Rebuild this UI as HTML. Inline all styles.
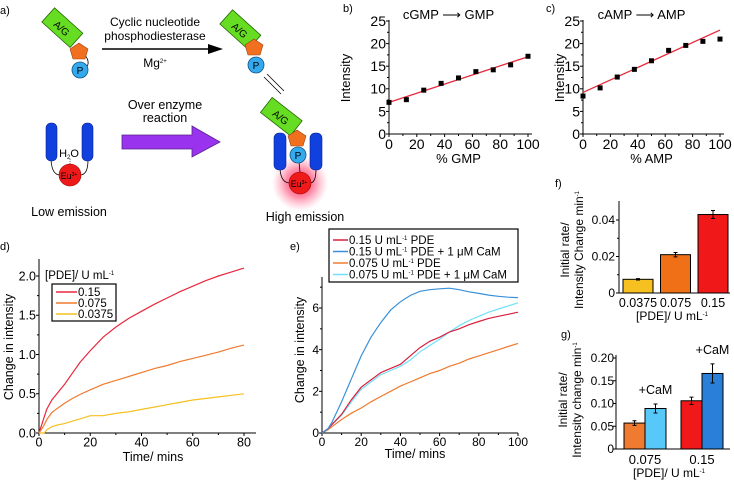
<!DOCTYPE html>
<html><head><meta charset="utf-8">
<style>
html,body{margin:0;padding:0;background:#fff;}
svg{display:block;font-family:"Liberation Sans",Arial,sans-serif;}
</style></head>
<body>
<svg id="fig" width="734" height="480" viewBox="0 0 734 480" xmlns="http://www.w3.org/2000/svg">
<defs>
<radialGradient id="glow"><stop offset="0" stop-color="#ff2050" stop-opacity="0.9"/><stop offset="0.5" stop-color="#ff4070" stop-opacity="0.6"/><stop offset="1" stop-color="#ff80a0" stop-opacity="0"/></radialGradient>
</defs>
<g font-size="12">
<text x="0" y="14" font-size="11">a)</text>
<g>
<path d="M80 50 Q94 62 84 70" fill="none" stroke="#000" stroke-width="0.8"/>
<rect x="43" y="18" width="38" height="19" fill="#66dd22" stroke="#226600" stroke-width="0.8" transform="rotate(42 62 28)"/>
<text x="62" y="32" font-size="10" text-anchor="middle" transform="rotate(42 62 28)">A/G</text>
<polygon points="79,43 88,49 85,59 73,59 70,49" fill="#f07020" stroke="#a04010" stroke-width="0.6"/>
<circle cx="80" cy="70" r="8" fill="#33aaee" stroke="#115588" stroke-width="0.8"/><text x="80" y="74" font-size="10" text-anchor="middle">P</text>
</g>
<line x1="102" y1="49" x2="210" y2="49" stroke="#000" stroke-width="1.5"/>
<polygon points="208,44 223,49 208,54" fill="#000"/>
<text x="155" y="26" text-anchor="middle">Cyclic nucleotide</text>
<text x="155" y="40" text-anchor="middle">phosphodiesterase</text>
<text x="155" y="67" text-anchor="middle">Mg<tspan font-size="6" dy="-4">2+</tspan></text>
<g>
<rect x="221" y="20" width="38" height="19" fill="#66dd22" stroke="#226600" stroke-width="0.8" transform="rotate(42 240 30)"/>
<text x="240" y="34" font-size="10" text-anchor="middle" transform="rotate(42 240 30)">A/G</text>
<polygon points="254,39 263,45 260,55 248,55 245,45" fill="#f07020" stroke="#a04010" stroke-width="0.6"/>
<circle cx="256" cy="65" r="8" fill="#33aaee" stroke="#115588" stroke-width="0.8"/><text x="256" y="69" font-size="10" text-anchor="middle">P</text>
</g>
<line x1="267" y1="74" x2="284" y2="91" stroke="#000" stroke-width="0.8"/>
<line x1="264" y1="77" x2="281" y2="94" stroke="#000" stroke-width="0.8"/>
<g>
<path d="M51 160 Q52 175 60 175 M88 160 Q88 175 80 175" fill="none" stroke="#000" stroke-width="0.8"/>
<rect x="46" y="123" width="11" height="38" rx="5" fill="#1040dd" stroke="#0a2090" stroke-width="0.6"/>
<rect x="82" y="123" width="11" height="38" rx="5" fill="#1040dd" stroke="#0a2090" stroke-width="0.6"/>
<text x="69" y="157" text-anchor="middle" font-size="11">H<tspan font-size="6" dy="2">2</tspan><tspan dy="-2">O</tspan></text>
<line x1="70" y1="159" x2="70" y2="164" stroke="#000" stroke-width="0.6" stroke-dasharray="1,1"/>
<circle cx="70" cy="175" r="11" fill="#ee1a1a" stroke="#900" stroke-width="0.6"/>
<text x="69" y="179" font-size="9" text-anchor="middle">Eu<tspan font-size="5" dy="-3">3+</tspan></text>
</g>
<text x="165" y="109" text-anchor="middle" font-size="12.5">Over enzyme</text>
<text x="165" y="122" text-anchor="middle" font-size="12.5">reaction</text>
<polygon points="122,135 192,135 192,126 220,142 192,157 192,149 122,149" fill="#9933ee" stroke="#552288" stroke-width="0.8"/>
<text x="69" y="216" text-anchor="middle" font-size="12.5">Low emission</text>
<g>
<circle cx="300" cy="183" r="28" fill="url(#glow)"/>
<path d="M280 169 Q281 183 290 183 M316 169 Q316 183 310 183" fill="none" stroke="#000" stroke-width="0.8"/>
<line x1="299" y1="162" x2="300" y2="172" stroke="#000" stroke-width="0.8"/>
<rect x="274" y="133" width="12" height="37" rx="5" fill="#1040dd" stroke="#0a2090" stroke-width="0.6"/>
<rect x="310" y="133" width="12" height="37" rx="5" fill="#1040dd" stroke="#0a2090" stroke-width="0.6"/>
<rect x="262" y="107" width="38" height="19" fill="#66dd22" stroke="#226600" stroke-width="0.8" transform="rotate(38 281 117)"/>
<text x="281" y="121" font-size="10" text-anchor="middle" transform="rotate(38 281 117)">A/G</text>
<polygon points="297,130 306,136 303,146 291,146 288,136" fill="#f07020" stroke="#a04010" stroke-width="0.6"/>
<circle cx="298" cy="155" r="8" fill="#33aaee" stroke="#115588" stroke-width="0.8"/><text x="298" y="159" font-size="10" text-anchor="middle">P</text>
<circle cx="300" cy="183" r="11" fill="#ee1a1a" stroke="#900" stroke-width="0.6"/>
<text x="299" y="187" font-size="9" text-anchor="middle">Eu<tspan font-size="5" dy="-3">3+</tspan></text>
</g>
<text x="305" y="221" text-anchor="middle" font-size="12.5">High emission</text>
</g>
<g id="charts"></g>
</svg>
<script>
const bX = [0,12.5,25,37.5,50,62.5,75,87.5,100];
const bY = [7,7.6,9.7,11.2,12.4,13.8,14.2,15.3,17.2];
const bFit = [7,17.1];
const cX = [0,12.5,25,37.5,50,62.5,75,87.5,100];
const cY = [8.4,10.2,12.6,14.3,16.2,18.5,19.6,20.5,21];
const cFit = [9.2,23];
const dT = [0,1,2,3,5,7,10,13,16,20,25,30,35,40,45,50,55,60,65,70,75,80];
const dRed = [0,0.1,0.2,0.3,0.42,0.5,0.62,0.76,0.9,1.05,1.22,1.35,1.46,1.55,1.64,1.72,1.8,1.87,1.94,2.0,2.05,2.1];
const dOrange = [0,0.05,0.1,0.17,0.26,0.31,0.38,0.44,0.49,0.55,0.62,0.67,0.72,0.77,0.82,0.86,0.91,0.95,0.99,1.03,1.08,1.12];
const dYellow = [0,0,0,0.04,0.08,0.1,0.12,0.15,0.18,0.22,0.22,0.25,0.27,0.3,0.33,0.36,0.39,0.42,0.44,0.46,0.48,0.5];
const eT = [0,3,5,10,15,20,25,30,35,40,45,50,55,60,65,70,75,80,85,90,95,100];
const eRed = [0,0.2,0.4,0.9,1.6,2.2,2.55,2.9,3.1,3.3,3.7,4.1,4.4,4.6,4.85,5.0,5.2,5.35,5.5,5.6,5.7,5.8];
const eBlue = [0,0.2,0.5,1.5,2.6,3.7,4.6,5.3,5.9,6.3,6.6,6.8,6.88,6.92,6.95,6.88,6.78,6.7,6.62,6.56,6.52,6.5];
const eOrange = [0,0.15,0.3,0.65,0.95,1.2,1.5,1.75,2.0,2.25,2.45,2.65,2.85,3.0,3.2,3.35,3.55,3.7,3.85,4.0,4.15,4.3];
const eCyan = [0,0.2,0.4,0.85,1.5,2.1,2.45,2.8,3.0,3.2,3.5,3.9,4.2,4.5,4.85,5.15,5.4,5.6,5.8,5.95,6.1,6.25];
const fCats = ["0.0375","0.075","0.15"];
const fVals = [0.0075,0.021,0.043];
const fErr = [0.0004,0.0012,0.0022];
const gCats = ["0.075","0.15"];
const gNoCaM = [0.057,0.106];
const gCaM = [0.089,0.166];
const gErrNo = [0.005,0.008];
const gErrCaM = [0.01,0.021];

const NS="http://www.w3.org/2000/svg";
const root=document.getElementById('charts');
function el(tag,attrs,parent,txt){const e=document.createElementNS(NS,tag);for(const k in attrs)e.setAttribute(k,attrs[k]);if(txt!==undefined)e.textContent=txt;(parent||root).appendChild(e);return e;}
function lin(d0,d1,r0,r1){return v=>r0+(v-d0)*(r1-r0)/(d1-d0);}
function axesXY(g,x0,x1,y0,y1,sx,sy,xt,yt,xMinor,yMinor,fs,fmtY){
  el('line',{x1:x0,y1:y0,x2:x1,y2:y0,stroke:'#000','stroke-width':1},g);
  el('line',{x1:x0,y1:y0,x2:x0,y2:y1,stroke:'#000','stroke-width':1},g);
  xt.forEach(v=>{el('line',{x1:sx(v),y1:y0,x2:sx(v),y2:y0+3,stroke:'#000'},g);
    const l=el('text',{x:sx(v),y:y0+3+fs*0.85,'font-size':fs,'text-anchor':'middle'},g,String(v));
    
    });
  xMinor.forEach(v=>el('line',{x1:sx(v),y1:y0,x2:sx(v),y2:y0+2,stroke:'#000'},g));
  yt.forEach(v=>{el('line',{x1:x0,y1:sy(v),x2:x0-3,y2:sy(v),stroke:'#000'},g);
    const l=el('text',{x:x0-3,y:sy(v)+fs*0.35,'font-size':fs,'text-anchor':'end'},g,fmtY?fmtY(v):String(v));
    
    });
  yMinor.forEach(v=>el('line',{x1:x0,y1:sy(v),x2:x0-2,y2:sy(v),stroke:'#000'},g));
}
function vtext(g,x,y,lines,fs,name){
  const t=el('text',{x:0,y:0,'font-size':fs,'text-anchor':'middle',transform:`translate(${x},${y}) rotate(-90)`},g);
  
  
  lines.forEach((s,i)=>{const ts=el('tspan',{x:0,dy:i?fs*1.15:0},t);ts.innerHTML=s;});
  return t;
}
function pathOf(xs,ys,sx,sy){return xs.map((v,i)=>(i?'L':'M')+sx(v).toFixed(1)+' '+sy(ys[i]).toFixed(1)).join(' ');}

function scatterPanel(name,label,lx,x0,x1,X,Y,fit,title,xlab,ylabX){
  const g=el('g',{});
  
  
  const sx=lin(0,100,x0,x1), sy=lin(0,25,134,21);
  el('text',{x:lx,y:12,'font-size':11},g,label);
  axesXY(g,x0,x1+4,134,20,sx,sy,[0,20,40,60,80,100],[0,5,10,15,20,25],[10,30,50,70,90],[2.5,7.5,12.5,17.5,22.5],14);
  const fl=el('line',{x1:sx(0),y1:sy(fit[0]),x2:sx(100),y2:sy(fit[1]),stroke:'#e8283c','stroke-width':1.3},g);
  
  
  X.forEach((v,i)=>{const r=el('rect',{x:sx(v)-2.5,y:sy(Y[i])-2.5,width:5,height:5,fill:'#000'},g);
    
    });
  el('text',{x:(x0+x1)/2-10,y:19,'font-size':13,'text-anchor':'middle'},g,title);
  el('text',{x:(x0+x1)/2,y:163,'font-size':13,'text-anchor':'middle'},g,xlab);
  vtext(g,ylabX,78,['Intensity'],13,'y-axis-title');
}
scatterPanel('chart-b-gmp','b)',343,389,528,bX,bY,bFit,'cGMP ⟶ GMP','% GMP',350);
scatterPanel('chart-c-amp','c)',546,583,720,cX,cY,cFit,'cAMP ⟶ AMP','% AMP',564);

(function(){
  const g=el('g',{});
  
  
  const sx=lin(0,80,39,244), sy=lin(0,2,433,276);
  el('text',{x:0,y:250,'font-size':11},g,'d)');
  axesXY(g,39,256,433,259,sx,sy,[0,20,40,60,80],[0,0.5,1,1.5,2],[10,30,50,70],[0.25,0.75,1.25,1.75],12.5,v=>v.toFixed(1));
  [[dRed,'#e8283c','series-0-15'],[dOrange,'#f07a30','series-0-075'],[dYellow,'#f5c020','series-0-0375']].forEach(s=>{
    const p=el('path',{d:pathOf(dT,s[0],sx,sy),fill:'none',stroke:s[1],'stroke-width':1.2},g);
    
    });
  el('text',{x:153,y:461,'font-size':12.5,'text-anchor':'middle'},g,'Time/ mins');
  vtext(g,13,347,['Change in intensity'],12.5,'y-axis-title');
  const t=el('text',{x:45,y:279,'font-size':11.5},g);t.innerHTML='[PDE]/ U mL<tspan font-size="6" dy="-4">-1</tspan>';
  const lg=el('g',{},g);
  
  
  el('rect',{x:52,y:284,width:64,height:37,fill:'#fff',stroke:'#000','stroke-width':1.2},lg);
  [['0.15','#e8283c'],['0.075','#f07a30'],['0.0375','#f5c020']].forEach((s,i)=>{
    const y=292+i*11;
    el('line',{x1:56,y1:y,x2:77,y2:y,stroke:s[1],'stroke-width':1.5},lg);
    const lt=el('text',{x:78,y:y+4,'font-size':11.5},lg,s[0]);
    
    });
})();

(function(){
  const g=el('g',{});
  
  
  const sx=lin(0,100,322,518), sy=lin(0,6,433,308);
  el('text',{x:290,y:250,'font-size':11},g,'e)');
  axesXY(g,322,518,433,277,sx,sy,[0,20,40,60,80,100],[0,2,4,6],[10,30,50,70,90],[1,3,5,7],12);
  [[eOrange,'#f07a30','series-0-075'],[eCyan,'#70e0f8','series-0-075-cam'],[eRed,'#d8203c','series-0-15'],[eBlue,'#3a90d8','series-0-15-cam']].forEach(s=>{
    const p=el('path',{d:pathOf(eT,s[0],sx,sy),fill:'none',stroke:s[1],'stroke-width':1.2},g);
    
    });
  el('text',{x:415,y:458,'font-size':12.5,'text-anchor':'middle'},g,'Time/ mins');
  vtext(g,304,350,['Change in intensity'],12.5,'y-axis-title');
  const lg=el('g',{},g);
  
  
  el('rect',{x:329,y:229,width:189,height:53,fill:'#fff',stroke:'#000','stroke-width':1.2},lg);
  [['0.15 U mL<tspan font-size="6" dy="-4">-1</tspan><tspan dy="4"> PDE</tspan>','#d8203c'],
   ['0.15 U mL<tspan font-size="6" dy="-4">-1</tspan><tspan dy="4"> PDE + 1 μM CaM</tspan>','#3a90d8'],
   ['0.075 U mL<tspan font-size="6" dy="-4">-1</tspan><tspan dy="4"> PDE</tspan>','#f07a30'],
   ['0.075 U mL<tspan font-size="6" dy="-4">-1</tspan><tspan dy="4"> PDE + 1 μM CaM</tspan>','#70e0f8']].forEach((s,i)=>{
    const y=240+i*11.5;
    el('line',{x1:333,y1:y,x2:348,y2:y,stroke:s[1],'stroke-width':1.5},lg);
    const lt=el('text',{x:349,y:y+4,'font-size':11.5},lg);lt.innerHTML=s[0];
    
    });
})();

(function(){
  const g=el('g',{});
  
  
  const sy=lin(0,0.04,293,220);
  const x0=619, step=37.5, bw=30;
  const bx=i=>x0+4+i*step;
  el('text',{x:555,y:187,'font-size':11},g,'f)');
  el('line',{x1:x0,y1:293,x2:730,y2:293,stroke:'#000'},g);
  el('line',{x1:x0,y1:293,x2:x0,y2:201,stroke:'#000'},g);
  [0,0.02,0.04].forEach(v=>{el('line',{x1:x0,y1:sy(v),x2:x0-3,y2:sy(v),stroke:'#000'},g);
    const l=el('text',{x:x0-4,y:sy(v)+4,'font-size':12,'text-anchor':'end'},g,v===0?'0':v.toFixed(2));
    
    });
  [0.01,0.03].forEach(v=>el('line',{x1:x0,y1:sy(v),x2:x0-2,y2:sy(v),stroke:'#000'},g));
  const cols=['#f5c020','#f07018','#f01818'];
  fCats.forEach((c,i)=>{
    const r=el('rect',{x:bx(i),y:sy(fVals[i]),width:bw,height:293-sy(fVals[i]),fill:cols[i],stroke:'#000','stroke-width':1},g);
    
    
    const cx=bx(i)+bw/2;
    el('path',{d:`M${cx} ${sy(fVals[i]+fErr[i])} V${sy(fVals[i]-fErr[i])} M${cx-2} ${sy(fVals[i]+fErr[i])} h4 M${cx-2} ${sy(fVals[i]-fErr[i])} h4`,stroke:'#000',fill:'none'},g);
    const l=el('text',{x:cx,y:307,'font-size':12.5,'text-anchor':'middle'},g,c);
    
    
  });
  const t=el('text',{x:672,y:320,'font-size':12,'text-anchor':'middle'},g);t.innerHTML='[PDE]/ U mL<tspan font-size="6" dy="-4">-1</tspan>';
  vtext(g,569,250,['Initial rate/','Intensity Change min<tspan font-size="6" dy="-4">-1</tspan>'],12,'y-axis-title');
})();

(function(){
  const g=el('g',{});
  
  
  const sy=lin(0,0.2,449,358);
  const x0=616, step=57, bw=21;
  const gx=i=>x0+8+i*step;
  el('text',{x:561,y:338,'font-size':11},g,'g)');
  el('line',{x1:x0,y1:449,x2:730,y2:449,stroke:'#000'},g);
  el('line',{x1:x0,y1:449,x2:x0,y2:355,stroke:'#000'},g);
  [0,0.05,0.1,0.15,0.2].forEach(v=>{el('line',{x1:x0,y1:sy(v),x2:x0-3,y2:sy(v),stroke:'#000'},g);
    const l=el('text',{x:x0-2,y:sy(v)+4,'font-size':12,'text-anchor':'end'},g,v===0?'0':v.toFixed(2));
    
    });
  const c1=['#f07a30','#f01818'], c2=['#58c8f8','#2a80d8'];
  gCats.forEach((c,i)=>{
    [[gNoCaM,gErrNo,c1,0,'bar-'+c],[gCaM,gErrCaM,c2,1,'bar-'+c+'-cam']].forEach(s=>{
      const x=gx(i)+s[3]*bw, v=s[0][i], e=s[1][i];
      const r=el('rect',{x:x,y:sy(v),width:bw,height:449-sy(v),fill:s[2][i],stroke:'#000','stroke-width':1},g);
      
      
      const cx=x+bw/2;
      el('path',{d:`M${cx} ${sy(v+e)} V${sy(v-e)} M${cx-2} ${sy(v+e)} h4 M${cx-2} ${sy(v-e)} h4`,stroke:'#000',fill:'none'},g);
    });
    const l=el('text',{x:gx(i)+bw,y:464,'font-size':13,'text-anchor':'middle'},g,c);
    
    
    const cm=el('text',{x:gx(i)+bw*1.5,y:sy(gCaM[i]+gErrCaM[i])-10,'font-size':12.5,'text-anchor':'middle'},g,'+CaM');
    
    
  });
  const t=el('text',{x:669,y:477,'font-size':12,'text-anchor':'middle'},g);t.innerHTML='[PDE]/ U mL<tspan font-size="6" dy="-4">-1</tspan>';
  vtext(g,567,400,['Initial rate/','Intensity change min<tspan font-size="6" dy="-4">-1</tspan>'],12,'y-axis-title');
})();
</script>
</body></html>
